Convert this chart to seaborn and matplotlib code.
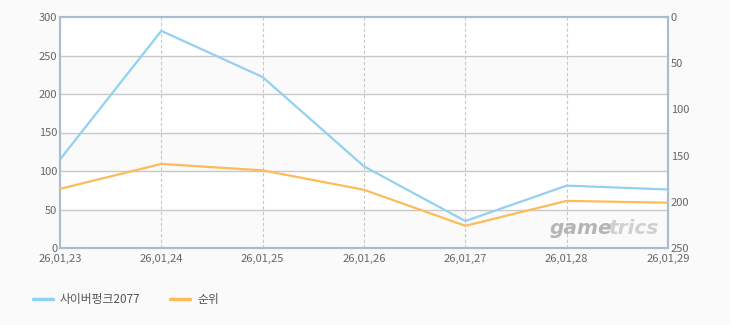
import matplotlib
matplotlib.use("Agg")
import matplotlib.pyplot as plt
import seaborn as sns
import pandas as pd
from matplotlib.lines import Line2D

dates = ["26,01,23", "26,01,24", "26,01,25", "26,01,26", "26,01,27", "26,01,28", "26,01,29"]
players = [115, 282, 222, 106, 35, 81, 76]
rank = [186, 159, 166, 187, 226, 199, 201]
left_ticks = [0, 50, 100, 150, 200, 250, 300]
right_ticks = [0, 50, 100, 150, 200, 250]
series_names = ["사이버펑크2077", "순위"]

sns.set_theme(style="white")
plt.rcParams['font.family'] = ['Noto Sans CJK KR', 'DejaVu Sans']

df = pd.DataFrame({"date": dates, "x": range(len(dates)), "players": players, "rank": rank})

fig = plt.figure(figsize=(7.3, 3.25), dpi=100, facecolor="#fafafa")
ax = fig.add_axes([60/730, 1-248/325, 608/730, 231/325])
ax.set_facecolor("white")
ax2 = ax.twinx()

blue = "#92d1f1"
orange = "#fdbb5a"

# alternating bands
for lo, hi in [(0, 50), (100, 150), (200, 250)]:
    ax.axhspan(lo, hi, color="#fafafa", zorder=0, lw=0)
for y in left_ticks[1:-1]:
    ax.axhline(y, color="#c8c8c8", lw=1, zorder=1)
for i in range(1, len(dates) - 1):
    ax.axvline(i, color="#c8c8c8", lw=0.8, ls=(0, (3, 2)), zorder=1)

sns.lineplot(data=df, x="x", y="players", ax=ax, color=blue, lw=1.6, zorder=3, legend=False)
sns.lineplot(data=df, x="x", y="rank", ax=ax2, color=orange, lw=1.6, zorder=3, legend=False)

ax.set_xlim(0, len(dates) - 1)
ax.set_ylim(0, 300)
ax2.set_ylim(250, 0)
ax.set_yticks(left_ticks)
ax2.set_yticks(right_ticks)
ax.set_xticks(range(len(dates)))
ax.set_xticklabels(dates)
ax.set_xlabel("")
ax.set_ylabel("")
ax2.set_ylabel("")
tc = "#666666"
ax.tick_params(axis="y", length=0, labelsize=8, labelcolor=tc, pad=2)
ax.tick_params(axis="x", length=0, labelsize=8, labelcolor=tc, pad=4)
ax2.tick_params(axis="y", length=0, labelsize=8, labelcolor=tc, pad=2)
for a in (ax, ax2):
    for s in a.spines.values():
        s.set_color("#a9bdd2")
        s.set_linewidth(1.5)

ax.text(0.805, 0.045, "game", transform=ax.transAxes, ha="left", va="bottom",
        fontsize=14.5, fontstyle="italic", fontweight="bold", color="#b5b5b5",
        family=["DejaVu Sans"], zorder=2)
ax.text(0.985, 0.045, "trics", transform=ax.transAxes, ha="right", va="bottom",
        fontsize=14.5, fontstyle="italic", fontweight="bold", color="#d0d0d0",
        family=["DejaVu Sans"], zorder=2)

handles = [Line2D([], [], color=blue, lw=2.5), Line2D([], [], color=orange, lw=2.5)]
fig.legend(handles, series_names, loc="center left", bbox_to_anchor=(0.03, 1 - 300/325),
           ncol=2, frameon=False, fontsize=8.5, handlelength=1.7, columnspacing=2.5,
           labelcolor="#555555", handletextpad=0.6)

fig.savefig("out.png", dpi=100, facecolor=fig.get_facecolor())
